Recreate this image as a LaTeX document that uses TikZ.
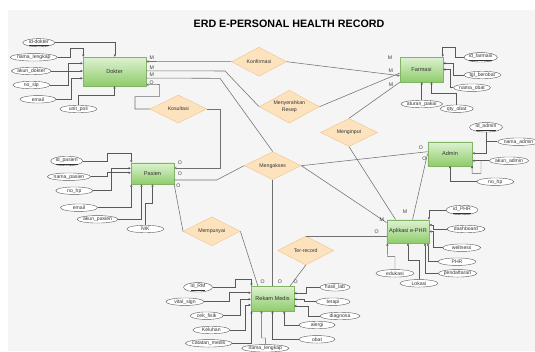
\documentclass[tikz,border=0pt]{standalone}
\usepackage{fontspec}
\setmainfont{Liberation Sans}
\usetikzlibrary{shapes.geometric,arrows.meta}
\definecolor{bgpanel}{RGB}{245,245,245}
\definecolor{enttop}{RGB}{222,242,210}
\definecolor{entbot}{RGB}{142,204,106}
\definecolor{entline}{RGB}{130,179,102}
\definecolor{relfill}{RGB}{253,226,190}
\definecolor{relline}{RGB}{240,196,140}
\definecolor{linegray}{RGB}{112,112,112}
\begin{document}
\begin{tikzpicture}[x=1pt,y=-1pt,
  ent/.style={rectangle, draw=entline, line width=0.4pt, top color=enttop, bottom color=entbot, inner sep=0pt, font=\fontsize{5.6}{6.5}\selectfont, text=black!80},
  rel/.style={diamond, shape aspect=2, draw=relline, fill=relfill, line width=0.4pt, inner sep=0pt, font=\fontsize{5.2}{6.2}\selectfont, align=center, text=black!80},
  attr/.style={ellipse, draw=black!65, fill=white, line width=0.4pt, inner sep=0pt, minimum height=7.5pt, font=\fontsize{5.1}{6}\selectfont, text=black!80},
  rl/.style={draw=linegray, line width=0.55pt},
  al/.style={draw=black!65, line width=0.45pt, -{Triangle[length=2.2pt,width=2.2pt]}},
  foot/.style={{Stealth[length=2.4pt,width=2.6pt,open]}-},
  card/.style={font=\fontsize{5.2}{6}\selectfont, text=black!75, inner sep=0pt}]
\useasboundingbox (0,0) rectangle (535,351);
\fill[white] (0,0) rectangle (535,351);
\fill[bgpanel] (7.5,10) rectangle (535,351);

\node[font=\bfseries\fontsize{10.7}{12}\selectfont] (title) at (289,24) {ERD E-PERSONAL HEALTH RECORD};

% entities
\node[ent, minimum width=63pt, minimum height=29pt] (dok) at (114.5,71.5) {Dokter};
\node[ent, minimum width=43pt, minimum height=25pt] (far) at (421.5,69.5) {Farmasi};
\node[ent, minimum width=43pt, minimum height=21.5pt] (pas) at (152.5,173.5) {Pasien};
\node[ent, minimum width=44.5pt, minimum height=24pt] (adm) at (450,153.7) {Admin};
\node[ent, minimum width=42.5pt, minimum height=23.5pt] (app) at (408,231.5) {Aplikasi e-PHR};
\node[ent, minimum width=43pt, minimum height=25pt] (rm) at (272.5,298.5) {Rekam Medis};

% relationships
\node[rel, minimum width=55pt, minimum height=29pt] (konf) at (259,61.7) {Konfirmasi};
\node[rel, minimum width=60pt, minimum height=33pt] (resep) at (289.3,106.7) {Menyerahkan\\Resep};
\node[rel, minimum width=57pt, minimum height=28pt] (kos) at (178.3,109) {Kosultasi};
\node[rel, minimum width=57pt, minimum height=28pt] (input) at (349,132.5) {Menginput};
\node[rel, minimum width=57pt, minimum height=28pt] (akses) at (272.7,165.7) {Mengakses};
\node[rel, minimum width=57pt, minimum height=29pt] (punya) at (211.7,231.3) {Mempunyai};
\node[rel, minimum width=56pt, minimum height=29pt] (rec) at (305.7,250.5) {Ter-record};

% relationship lines
\draw[rl, foot] ([yshift=-4.7pt]dok.north east) -- (konf.west);
\draw[rl, -{Stealth[length=2.4pt,width=2.4pt]}] (konf.east) -- ([yshift=-6.2pt]far.west);
\draw[rl] ([yshift=-14pt]dok.north east) -- (225,71) -- (resep.west);
\draw[rl] (resep.east) -- ([yshift=-16.3pt]far.north west);
\draw[rl] ([yshift=-21.3pt]dok.north east) -- (220,78.3) -- (akses.north);
\draw[rl, foot] ([yshift=1.5pt]dok.south east) -- (159.3,84.5) -- (159.3,96.7) -- (135,96.7) -- (135,109) -- (kos.west);
\draw[rl, foot] ([yshift=5.5pt]pas.east) -- (220,168) -- (220,109) -- (kos.east);
\draw[rl] ([yshift=-6.5pt]pas.east) -- (216.7,180) -- (akses.west);
\draw[rl] (pas.south east) -- (punya.west);
\draw[rl] (punya.east) -- ([xshift=7pt]rm.north west);
\draw[rl] (akses.south) -- (akses.south |- rm.north);
\draw[rl] (rec.north) -- (rec.north -| app.west);
\draw[rl] (rec.south) -- ([xshift=-4pt]rm.north east);
\draw[rl] (akses.east) -- ([yshift=2pt]adm.west);
\draw[rl] (akses.east) -- ([yshift=-3pt]app.north west);
\draw[rl] (input.south) -- ([xshift=9pt]app.north west);
\draw[rl] (input.north) -- (far.south west);
\draw[rl] (adm.west) -- ([xshift=26pt]app.north west);

% cardinalities
\node[card] (m1) at (151.7,58) {M};
\node[card] (m2) at (151.7,68) {M};
\node[card] (m3) at (151.7,75) {M};
\node[card] (o1) at (151.7,82.7) {O};
\node[card] (m4) at (390,57.3) {M};
\node[card] (m5) at (390.7,70.7) {M};
\node[card] (m6) at (391,84.5) {M};
\node[card] (o2) at (180,162.7) {O};
\node[card] (o3) at (180,174) {O};
\node[card] (o4) at (178.3,186) {O};
\node[card] (o5) at (262.7,282) {O};
\node[card] (o6) at (280,282) {O};
\node[card] (o7) at (295.7,282) {O};
\node[card] (o8) at (376.7,231.5) {O};
\node[card] (m7) at (381.7,219.3) {M};
\node[card] (m8) at (405,211.7) {M};
\node[card] (o9) at (421,148) {O};
\node[card] (o10) at (424.3,158.3) {O};

% Dokter attributes
\node[attr, minimum width=32pt] (a1) at (38.8,42.7) {\underline{id-dokter}};
\node[attr, minimum width=42pt] (a2) at (33.8,57.3) {nama\_lengkap};
\node[attr, minimum width=37pt] (a3) at (31.3,71) {akun\_dokter};
\node[attr, minimum width=37pt] (a4) at (31.3,85) {no\_sip};
\node[attr, minimum width=36pt] (a5) at (38,99.3) {email};
\node[attr, minimum width=37pt] (a6) at (78.3,109) {unit\_poli};
\draw[al] (a1.east) -| ([xshift=32pt]dok.north west);
\draw[al] (a2.east) -| (70,48.3) -| ([xshift=0.5pt]dok.north west);
\draw[al] (a3.east) -- (a3.east -| dok.west);
\draw[al] (a4.east) -| (68.3,63.3) -- ([yshift=8.2pt]dok.west);
\draw[al] (a5.east) -| (71.7,78.3) -- ([yshift=-6.8pt]dok.west);
\draw[al] (a6.north) |- (114.5,95) -- (dok.south);

% Farmasi attributes
\node[attr, minimum width=33pt] (b1) at (480.7,57.3) {\underline{id\_farmasi}};
\node[attr, minimum width=37pt] (b2) at (482.3,75) {tgl\_berobat};
\node[attr, minimum width=37pt] (b3) at (472,87.7) {nama\_obat};
\node[attr, minimum width=32pt] (b4) at (421.7,104) {aturan\_pakai};
\node[attr, minimum width=33pt] (b5) at (456.7,108.7) {qty\_obat};
\draw[al] (b1.west) -| (455,47.3) -| ([xshift=-0.5pt]far.north east);
\draw[al] (b2.west) -| (453.3,63.3) -- ([yshift=6.2pt]far.east);
\draw[al] (b3.west) -| (450,69.5) -- (far.east);
\draw[al] (b4.north) -- (b4.north |- far.south);
\draw[al] (b5.north) |- (431.5,93.3) -- ([xshift=10pt]far.south);

% Pasien attributes
\node[attr, minimum width=32pt] (c1) at (66.7,161) {\underline{id\_pasien}};
\node[attr, minimum width=37pt] (c2) at (69,176.7) {nama\_pasien};
\node[attr, minimum width=37pt] (c3) at (74.3,190.7) {no\_hp};
\node[attr, minimum width=37pt] (c4) at (79,207.7) {email};
\node[attr, minimum width=37pt] (c5) at (97.5,219.3) {akun\_pasien};
\node[attr, minimum width=37pt] (c6) at (145.3,229) {NIK};
\draw[al] (c1.east) -| (107.3,153.3) -| ([xshift=0.5pt]pas.north west);
\draw[al] (c2.east) -| (107.3,172.7) -- ([yshift=0.8pt]pas.west);
\draw[al] (c3.east) -| (111.7,168.3) -- ([yshift=5.2pt]pas.west);
\draw[al] (c4.east) -| ([xshift=0.5pt]pas.south west);
\draw[al] (c5.east) -| ([xshift=10.7pt]pas.south west);
\draw[al] (c6.north) |- (152.5,203.3) -- (pas.south);

% Admin attributes
\node[attr, minimum width=33pt] (d1) at (486,127.3) {\underline{id\_admin}};
\node[attr, minimum width=34pt] (d2) at (518.5,141.7) {nama\_admin};
\node[attr, minimum width=38pt] (d3) at (509,160.7) {akun\_admin};
\node[attr, minimum width=37pt] (d4) at (495.3,181.7) {no\_hp};
\coordinate (j1) at (486,141.7);
\coordinate (j2) at (481,160.7);
\draw[al] (d1.south) |- ([yshift=0.4pt]adm.east);
\draw[draw=black!65, line width=0.45pt] (d2.west) -- (j1);
\draw[al] (d3.west) -- ([yshift=-7pt]adm.east);
\draw[al] (j2) |- (472,173.3) -- ([xshift=-0.25pt]adm.south east);
\draw[al] (d4.west) -| (adm.south);

% Aplikasi e-PHR attributes
\node[attr, minimum width=32pt] (e1) at (462,210) {\underline{id\_PHR}};
\node[attr, minimum width=38pt] (e2) at (466,229) {dashboard};
\node[attr, minimum width=38pt] (e3) at (461.7,247.7) {wellness};
\node[attr, minimum width=38pt] (e4) at (457,261.7) {PHR};
\node[attr, minimum width=38pt] (e5) at (457.5,273.3) {pendaftaran};
\node[attr, minimum width=38pt] (e6) at (395,273.3) {edukasi};
\node[attr, minimum width=38pt] (e7) at (419,283.3) {Lokasi};
\draw[al] (e1.west) -| ([xshift=-0.5pt]app.north east);
\draw[al] (e2.west) -| (433.3,225) -- ([yshift=6.5pt]app.east);
\draw[al] (e3.west) -| (433.3,231.5) -- (app.east);
\draw[al] (e4.west) -| ([xshift=-1.5pt]app.south east);
\draw[al] (e5.west) -| ([xshift=-4.5pt]app.south east);
\draw[al] (e6.north) |- (387.5,256.7) -- ([xshift=0.75pt]app.south west);
\draw[al] (e7.north) |- (408,260.7) -- (app.south);

% Rekam Medis attributes
\node[attr, minimum width=29pt] (f1) at (198,287.3) {\underline{id\_RM}};
\node[attr, minimum width=38pt] (f2) at (185,301.7) {vital\_sign};
\node[attr, minimum width=33pt] (f3) at (206.7,315.7) {cek\_fisik};
\node[attr, minimum width=37pt] (f4) at (211.3,330) {Keluhan};
\node[attr, minimum width=46pt] (f5) at (208.8,343.3) {catatan\_medis};
\node[attr, minimum width=37pt] (f6) at (265.3,348.3) {nama\_lengkap};
\node[attr, minimum width=30pt] (f7) at (335,287.3) {hasil\_lab};
\node[attr, minimum width=34pt] (f8) at (333,301.7) {terapi};
\node[attr, minimum width=40pt] (f9) at (340,316) {diagnosa};
\node[attr, minimum width=36pt] (f10) at (317,325) {alergi};
\node[attr, minimum width=36pt] (f11) at (317,339.3) {obat};
\draw[al] (f1.east) -| (235,279) -| ([xshift=0.7pt]rm.north west);
\draw[al] (f2.east) -| (229.3,292.7) -- ([yshift=5.8pt]rm.west);
\draw[al] (f3.east) -| (240,299.3) -- ([yshift=-0.8pt]rm.west);
\draw[al] (f4.east) -| (245,305) -- ([yshift=-6.5pt]rm.west);
\draw[al] (f5.east) -| ([xshift=0.7pt]rm.south west);
\draw[al] (f6.north) |- (261.7,338) -- ([xshift=10.7pt]rm.south west);
\draw[al] (f7.west) -| (306.7,293.3) -- ([yshift=5.2pt]rm.east);
\draw[al] (f8.west) -| (304,299.3) -- ([yshift=-0.8pt]rm.east);
\draw[al] (f9.west) -| (308.3,306) -- ([yshift=-7.5pt]rm.east);
\draw[al] (f10.west) -| ([xshift=-10pt]rm.south east);
\draw[al] (f11.west) -| (rm.south);
\end{tikzpicture}
\end{document}
